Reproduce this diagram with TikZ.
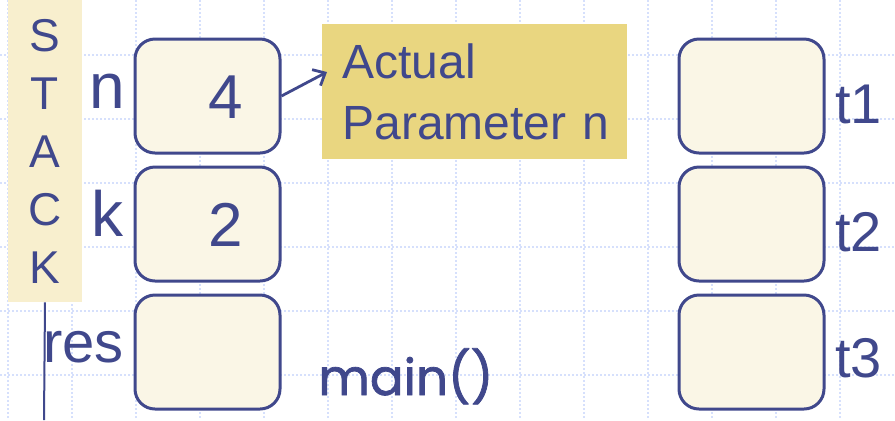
\documentclass[tikz,border=0pt]{standalone}
\usepackage{fontspec}
\setmainfont{Liberation Sans}
\newfontfamily\handfont{Poppins}[FakeBold=1.5]
\usetikzlibrary{arrows.meta}

\definecolor{ink}{RGB}{64,72,140}
\definecolor{cellfill}{RGB}{250,246,230}
\definecolor{stackfill}{RGB}{248,239,206}
\definecolor{notefill}{RGB}{233,214,128}
\definecolor{gridblue}{RGB}{214,224,252}

\tikzset{
  gridline/.style={gridblue, line width=1pt, densely dotted},
  cell/.style={draw=ink, line width=1.5pt, fill=cellfill, rounded corners=10pt,
    minimum width=72.5pt, minimum height=57pt, inner sep=0pt},
  lbl/.style={text=ink, inner sep=0pt, font=\fontsize{32}{36}\selectfont},
  tlbl/.style={text=ink, inner sep=0pt, font=\fontsize{28}{32}\selectfont, anchor=base west},
  val/.style={text=ink, inner sep=0pt, font=\fontsize{31}{36}\selectfont, anchor=base},
  arr/.style={ink, line width=1.4pt, -{Straight Barb[length=5pt,width=9pt]}}
}

\begin{document}
\begin{tikzpicture}[x=0.5pt,y=-0.5pt]
    \useasboundingbox (0,0) rectangle (895,420);
    \fill[white] (0,0) rectangle (895,420);

    \foreach \gx in {8,72,...,840} \draw[gridline] (\gx,0) -- (\gx,420);
    \foreach \gy in {55,119,...,375} \draw[gridline] (0,\gy) -- (895,\gy);

    \node[fill=stackfill, text=ink, minimum width=37pt, minimum height=151pt, inner sep=0pt,
      align=center, font=\fontsize{23}{29}\selectfont] (stack) at (45,151) {S\\T\\A\\C\\K};
    \coordinate (base) at (44,420);
    \draw[ink, line width=1pt] (stack.south) -- (base);

    \node[cell] (celln) at (207.5,96) {}; \node[cell] (cellk) at (207.5,224) {};
    \node[cell] (cellres) at (207.5,352) {};
    \node[cell] (cellt1) at (751.5,96) {}; \node[cell] (cellt2) at (751.5,224) {};
    \node[cell] (cellt3) at (751.5,352) {};

    \node[val] (valn) at (226,118) {4}; \node[val] (valk) at (226,246) {2};

    \node[lbl, anchor=base] (ln) at (107,108) {n}; \node[lbl, anchor=base] (lk) at (107,236) {k};
    \node[lbl, anchor=base east, font=\fontsize{29}{34}\selectfont] (lres) at (124,362) {res};
    \node[tlbl] (lt1) at (835,123) {t1}; \node[tlbl] (lt2) at (835,251) {t2};
    \node[tlbl] (lt3) at (835,377) {t3};

    \node[fill=notefill, text=ink, anchor=north west, minimum width=152.5pt, minimum height=67.5pt,
      text width=132.5pt, inner xsep=10pt, align=left, font=\fontsize{24}{28.5}\selectfont]
      (note) at (322,24) {Actual\\[2pt]\mbox{Parameter n}};
    \coordinate (tip) at (327,72);
    \draw[arr] (celln.east) -- (tip);

    \node[text=ink, inner sep=0pt, anchor=base west, font=\handfont\fontsize{25}{30}\selectfont]
      (main) at (318,395) {main()};
  \end{tikzpicture}
\end{document}
